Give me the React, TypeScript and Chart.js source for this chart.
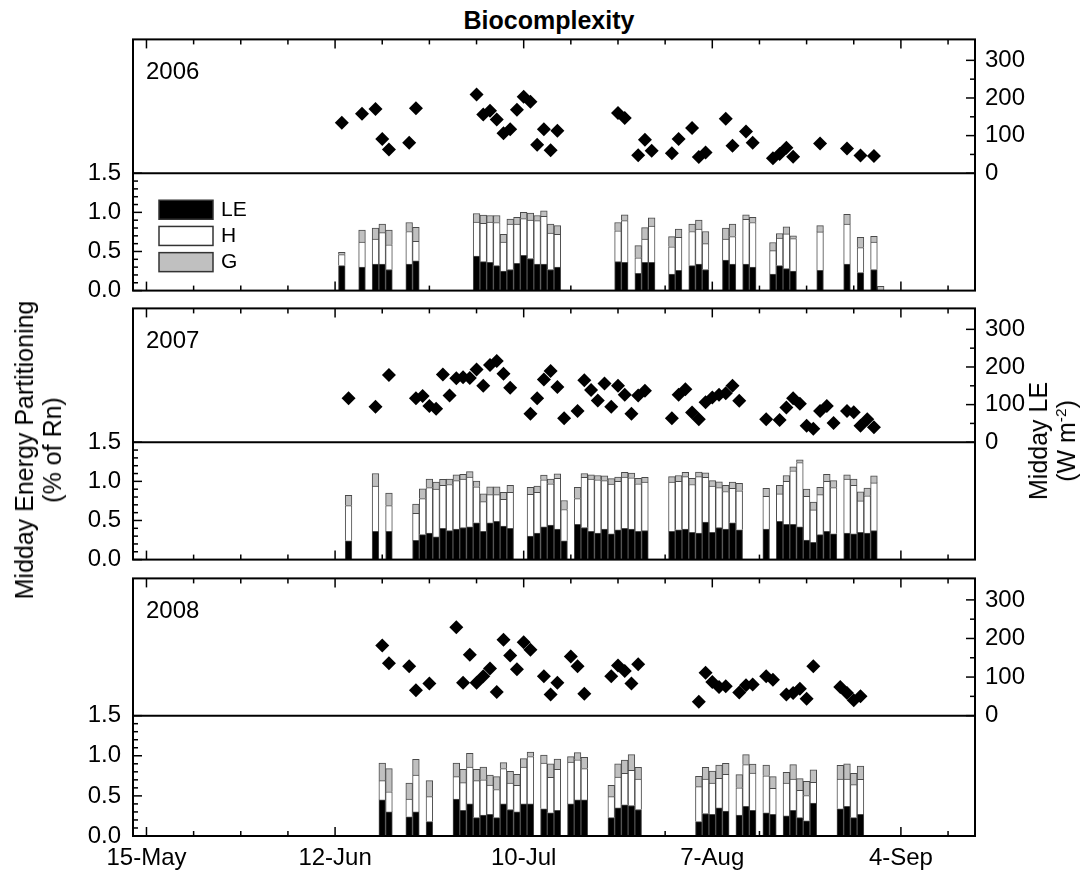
import React, { useEffect, useRef } from 'react';
import { Chart, registerables } from 'chart.js';

Chart.register(...registerables);

const FONT = '"Liberation Sans", Arial, Helvetica, sans-serif';

// ---- axis tick data ----
const xTickDays = [135, 163, 191, 219, 247]; // day of year
const xTickLabels = ['15-May', '12-Jun', '10-Jul', '7-Aug', '4-Sep'];
const leftTickValues = [0, 0.5, 1.0, 1.5];
const rightTickValues = [0, 100, 200, 300];
const seriesNames = ['LE', 'H', 'G'];
const seriesColors = ['#000000', '#ffffff', '#c0c0c0'];
const yearLabels = ['2006', '2007', '2008'];

// ---- 2006 ----
const barDays2006 = [164, 167, 169, 170, 171, 174, 175, 184, 185, 186, 187, 188, 189, 190, 191, 192, 193, 194, 195, 196, 205, 206, 208, 209, 210, 213, 214, 216, 217, 218, 221, 222, 224, 225, 228, 229, 230, 231, 235, 239, 241, 243, 244];
const le2006 = [0.32, 0.30, 0.34, 0.34, 0.27, 0.34, 0.38, 0.44, 0.37, 0.36, 0.32, 0.25, 0.27, 0.35, 0.45, 0.41, 0.34, 0.34, 0.27, 0.30, 0.37, 0.36, 0.22, 0.36, 0.36, 0.21, 0.26, 0.32, 0.34, 0.27, 0.39, 0.34, 0.34, 0.30, 0.21, 0.32, 0.28, 0.25, 0.26, 0.34, 0.23, 0.27, null];
const h2006 = [0.14, 0.32, 0.32, 0.40, 0.315, 0.415, 0.25, 0.435, 0.49, 0.515, 0.55, 0.37, 0.58, 0.50, 0.47, 0.49, 0.555, 0.61, 0.465, 0.42, 0.395, 0.535, 0.20, 0.30, 0.465, 0.35, 0.42, 0.435, 0.445, 0.33, 0.27, 0.35, 0.57, 0.57, 0.30, 0.35, 0.445, 0.415, 0.49, 0.51, 0.32, 0.35, null];
const g2006 = [0.03, 0.155, 0.14, 0.11, 0.19, 0.115, 0.18, 0.11, 0.105, 0.085, 0.09, 0.10, 0.065, 0.085, 0.08, 0.09, 0.065, 0.07, 0.115, 0.11, 0.105, 0.075, 0.155, 0.145, 0.105, 0.13, 0.105, 0.095, 0.115, 0.155, 0.14, 0.16, 0.06, 0.065, 0.105, 0.06, 0.09, 0.035, 0.08, 0.125, 0.13, 0.075, 0.054];
const leDays2006 = [164, 167, 169, 170, 171, 174, 175, 184, 185, 186, 187, 188, 189, 190, 191, 192, 193, 194, 195, 196, 205, 206, 208, 209, 210, 213, 214, 216, 217, 218, 221, 222, 224, 225, 228, 229, 230, 231, 235, 239, 241, 243];
const midLE2006 = [134, 158, 171, 91, 63, 81, 173, 209, 156, 166, 143, 106, 117, 169, 203, 190, 76, 117, 61, 113, 160, 147, 48, 89, 60, 53, 91, 120, 43, 55, 145, 73, 111, 81, 40, 51, 68, 44, 79, 66, 47, 46];

// ---- 2007 ----
const barDays2007 = [165, 169, 171, 175, 176, 177, 178, 179, 180, 181, 182, 183, 184, 185, 186, 187, 188, 189, 192, 193, 194, 195, 196, 197, 199, 200, 201, 202, 203, 204, 205, 206, 207, 208, 209, 213, 214, 215, 216, 217, 218, 219, 220, 221, 222, 223, 227, 229, 230, 231, 232, 233, 234, 235, 236, 237, 239, 240, 241, 242, 243];
const le2007 = [0.24, 0.36, 0.36, 0.245, 0.32, 0.34, 0.29, 0.40, 0.37, 0.39, 0.41, 0.42, 0.47, 0.36, 0.47, 0.49, 0.43, 0.40, 0.30, 0.34, 0.42, 0.44, 0.39, 0.24, 0.45, 0.41, 0.36, 0.34, 0.39, 0.33, 0.38, 0.40, 0.39, 0.36, 0.37, 0.36, 0.38, 0.39, 0.35, 0.34, 0.48, 0.35, 0.41, 0.39, 0.47, 0.38, 0.39, 0.49, 0.45, 0.45, 0.42, 0.25, 0.22, 0.32, 0.36, 0.33, 0.34, 0.33, 0.35, 0.34, 0.37];
const h2007 = [0.45, 0.58, 0.33, 0.345, 0.46, 0.58, 0.61, 0.55, 0.59, 0.62, 0.62, 0.635, 0.46, 0.38, 0.36, 0.34, 0.34, 0.46, 0.535, 0.52, 0.60, 0.53, 0.65, 0.40, 0.33, 0.64, 0.67, 0.68, 0.62, 0.635, 0.62, 0.655, 0.655, 0.61, 0.62, 0.63, 0.62, 0.67, 0.61, 0.72, 0.57, 0.59, 0.51, 0.48, 0.44, 0.50, 0.42, 0.35, 0.55, 0.685, 0.82, 0.56, 0.415, 0.51, 0.64, 0.59, 0.69, 0.62, 0.40, 0.475, 0.61];
const g2007 = [0.13, 0.16, 0.16, 0.12, 0.125, 0.11, 0.09, 0.075, 0.07, 0.075, 0.06, 0.07, 0.075, 0.10, 0.10, 0.10, 0.09, 0.09, 0.09, 0.08, 0.06, 0.06, 0.055, 0.115, 0.145, 0.05, 0.055, 0.055, 0.06, 0.07, 0.055, 0.06, 0.06, 0.07, 0.06, 0.07, 0.075, 0.055, 0.08, 0.06, 0.06, 0.07, 0.075, 0.08, 0.08, 0.095, 0.10, 0.11, 0.075, 0.05, 0.035, 0.09, 0.10, 0.095, 0.09, 0.09, 0.055, 0.08, 0.115, 0.10, 0.09];
const leDays2007 = [165, 169, 171, 175, 176, 177, 178, 179, 180, 181, 182, 183, 184, 185, 186, 187, 188, 189, 192, 193, 194, 195, 196, 197, 199, 200, 201, 202, 203, 204, 205, 206, 207, 208, 209, 213, 214, 215, 216, 217, 218, 219, 220, 221, 222, 223, 227, 229, 230, 231, 232, 233, 234, 235, 236, 237, 239, 240, 241, 242, 243];
const midLE2007 = [117, 94, 179, 117, 123, 96, 89, 180, 124, 170, 173, 171, 193, 150, 205, 216, 182, 145, 76, 117, 167, 189, 147, 64, 83, 165, 139, 111, 156, 94, 150, 126, 76, 124, 137, 64, 126, 141, 79, 61, 106, 119, 126, 130, 150, 110, 61, 59, 92, 117, 102, 44, 36, 83, 96, 51, 83, 80, 44, 61, 40];

// ---- 2008 ----
const barDays2008 = [170, 171, 174, 175, 177, 181, 182, 183, 184, 185, 186, 187, 188, 189, 190, 191, 192, 194, 195, 196, 198, 199, 200, 204, 205, 206, 207, 208, 217, 218, 219, 220, 221, 223, 224, 225, 227, 228, 230, 231, 232, 233, 234, 238, 239, 240, 241];
const le2008 = [0.45, 0.30, 0.24, 0.30, 0.18, 0.46, 0.32, 0.40, 0.23, 0.26, 0.27, 0.23, 0.40, 0.33, 0.30, 0.40, 0.40, 0.34, 0.29, 0.32, 0.40, 0.45, 0.45, 0.23, 0.35, 0.39, 0.38, 0.33, 0.18, 0.28, 0.27, 0.35, 0.31, 0.26, 0.37, 0.32, 0.29, 0.27, 0.25, 0.32, 0.23, 0.19, 0.41, 0.34, 0.37, 0.23, 0.27];
const h2008 = [0.24, 0.25, 0.22, 0.46, 0.31, 0.28, 0.345, 0.46, 0.46, 0.44, 0.365, 0.35, 0.44, 0.33, 0.33, 0.46, 0.59, 0.57, 0.44, 0.51, 0.52, 0.50, 0.39, 0.26, 0.385, 0.39, 0.44, 0.38, 0.435, 0.43, 0.39, 0.37, 0.46, 0.34, 0.52, 0.465, 0.46, 0.325, 0.41, 0.39, 0.34, 0.315, 0.26, 0.37, 0.34, 0.41, 0.435];
const g2008 = [0.22, 0.29, 0.20, 0.195, 0.20, 0.17, 0.165, 0.17, 0.14, 0.16, 0.125, 0.16, 0.075, 0.145, 0.14, 0.105, 0.055, 0.10, 0.17, 0.13, 0.07, 0.09, 0.14, 0.14, 0.165, 0.165, 0.195, 0.145, 0.13, 0.145, 0.15, 0.165, 0.135, 0.165, 0.125, 0.11, 0.135, 0.145, 0.135, 0.18, 0.145, 0.175, 0.155, 0.17, 0.19, 0.14, 0.165];
const leDays2008 = [170, 171, 174, 175, 177, 181, 182, 183, 184, 185, 186, 187, 188, 189, 190, 191, 192, 194, 195, 196, 198, 199, 200, 204, 205, 206, 207, 208, 217, 218, 219, 220, 221, 223, 224, 225, 227, 228, 230, 231, 232, 233, 234, 238, 239, 240, 241];
const midLE2008 = [182, 136, 128, 66, 83, 229, 85, 158, 85, 102, 122, 61, 197, 156, 120, 190, 171, 102, 55, 85, 153, 128, 57, 102, 130, 116, 83, 133, 36, 111, 87, 74, 76, 60, 79, 81, 102, 93, 55, 59, 70, 44, 128, 74, 59, 40, 50];

// ---- layout constants ----
const X_MIN = 133;
const X_MAX = 258;
const TOP_H = 138;
const BOT_H = 121;
const PANEL_TOPS = [38, 307, 577];
const PAD_TOP = 25;
const L_MAX = (1.5 * (TOP_H + BOT_H)) / BOT_H;
const R_PX = 0.388;
const R_MAX = TOP_H / R_PX;
const R_MIN = -BOT_H / R_PX;

function makeFramePlugin(year: string, legend: boolean) {
  return {
    id: 'frame' + year,
    afterDraw(chart: any) {
      const { ctx, chartArea, scales } = chart;
      const { left, right, top, bottom } = chartArea;
      const xs = scales.x;
      const yL = scales.yL;
      const yR = scales.yR;
      const line = (x1: number, y1: number, x2: number, y2: number) => {
        ctx.beginPath();
        ctx.moveTo(x1, y1);
        ctx.lineTo(x2, y2);
        ctx.stroke();
      };
      ctx.save();
      ctx.strokeStyle = '#000';
      ctx.lineWidth = 2;
      ctx.strokeRect(left, top, right - left, bottom - top);
      const mid = yL.getPixelForValue(1.5);
      line(left, mid, right, mid);
      ctx.lineWidth = 1.5;
      for (let d = xTickDays[0]; d <= X_MAX; d += 7) {
        const px = xs.getPixelForValue(d);
        const major = (d - xTickDays[0]) % 28 === 0;
        const len = major ? 9 : 5;
        line(px, top, px, top + len);
        line(px, bottom, px, bottom - len);
      }
      for (let i = 0; i <= 15; i++) {
        const py = yL.getPixelForValue(i / 10);
        const len = i % 5 === 0 ? 9 : 5;
        line(left, py, left + len, py);
      }
      for (let v = 0; v <= 300; v += 50) {
        const py = yR.getPixelForValue(v);
        const len = v % 100 === 0 ? 9 : 5;
        line(right, py, right - len, py);
      }
      ctx.fillStyle = '#000';
      ctx.font = '24px ' + FONT;
      ctx.textBaseline = 'alphabetic';
      ctx.textAlign = 'left';
      ctx.fillText(year, left + 13, top + 40);
      if (legend) {
        ctx.font = '21px ' + FONT;
        ctx.textBaseline = 'middle';
        seriesNames.forEach((name, i) => {
          const by = mid + 27 + i * 26.2;
          ctx.fillStyle = seriesColors[i];
          ctx.fillRect(left + 26, by, 54, 19);
          ctx.strokeStyle = '#333';
          ctx.lineWidth = 1.5;
          ctx.strokeRect(left + 26, by, 54, 19);
          ctx.fillStyle = '#000';
          ctx.fillText(name, left + 88, by + 10);
        });
      }
      ctx.restore();
    },
  };
}

type PanelProps = {
  top: number;
  year: string;
  barDays: number[];
  le: (number | null)[];
  h: (number | null)[];
  g: (number | null)[];
  leDays: number[];
  midLE: number[];
  legend: boolean;
  showX: boolean;
};

function Panel(p: PanelProps) {
  const ref = useRef<HTMLCanvasElement | null>(null);
  const xH = p.showX ? 45 : 20;
  const height = PAD_TOP + TOP_H + BOT_H + xH;
  useEffect(() => {
    if (!ref.current) return;
    const pts = (d: number[], v: (number | null)[]) => d.map((x, i) => ({ x, y: v[i] }));
    const tickFont = { family: FONT, size: 24 };
    const barCommon = {
      yAxisID: 'yL',
      xAxisID: 'x',
      borderColor: '#4a4a4a',
      borderWidth: 1,
      barThickness: 6.7,
      stack: 's',
    };
    const chart = new Chart(ref.current, {
      type: 'bar',
      data: {
        datasets: [
          {
            type: 'scatter',
            label: 'Midday LE',
            data: pts(p.leDays, p.midLE),
            yAxisID: 'yR',
            xAxisID: 'x',
            pointStyle: 'rectRot',
            pointRadius: 7,
            backgroundColor: '#000',
            borderColor: '#000',
            borderWidth: 0,
          } as any,
          { ...barCommon, label: seriesNames[0], data: pts(p.barDays, p.le), backgroundColor: seriesColors[0] },
          { ...barCommon, label: seriesNames[1], data: pts(p.barDays, p.h), backgroundColor: seriesColors[1] },
          { ...barCommon, label: seriesNames[2], data: pts(p.barDays, p.g), backgroundColor: seriesColors[2] },
        ],
      },
      options: {
        responsive: false,
        animation: false,
        layout: { padding: { top: PAD_TOP, left: 0, right: 0, bottom: 0 } },
        plugins: { legend: { display: false }, tooltip: { enabled: false }, title: { display: false } },
        scales: {
          x: {
            type: 'linear',
            position: 'bottom',
            min: X_MIN,
            max: X_MAX,
            bounds: 'data',
            offset: false,
            stacked: true,
            grid: { display: false, drawTicks: false, tickLength: 0, offset: false },
            border: { display: false },
            afterBuildTicks: (s: any) => {
              s.ticks = xTickDays.map((v) => ({ value: v }));
            },
            ticks: {
              display: p.showX,
              autoSkip: false,
              maxRotation: 0,
              padding: 8,
              color: '#000',
              font: tickFont,
              callback: (v: any) => {
                const i = xTickDays.indexOf(Number(v));
                return i >= 0 ? xTickLabels[i] : '';
              },
            },
            afterFit: (s: any) => {
              s.height = xH;
            },
          },
          yL: {
            type: 'linear',
            position: 'left',
            min: 0,
            max: L_MAX,
            bounds: 'data',
            stacked: true,
            grid: { display: false, drawTicks: false, tickLength: 0 },
            border: { display: false },
            afterBuildTicks: (s: any) => {
              s.ticks = leftTickValues.map((v) => ({ value: v }));
            },
            ticks: {
              padding: 12,
              color: '#000',
              font: tickFont,
              callback: (v: any) => Number(v).toFixed(1),
            },
            afterFit: (s: any) => {
              s.width = 133;
            },
          },
          yR: {
            type: 'linear',
            position: 'right',
            min: R_MIN,
            max: R_MAX,
            bounds: 'data',
            grid: { display: false, drawTicks: false, tickLength: 0 },
            border: { display: false },
            afterBuildTicks: (s: any) => {
              s.ticks = rightTickValues.map((v) => ({ value: v }));
            },
            ticks: {
              padding: 10,
              color: '#000',
              font: tickFont,
              callback: (v: any) => String(Math.round(Number(v))),
            },
            afterFit: (s: any) => {
              s.width = 115;
            },
          },
        },
      } as any,
      plugins: [makeFramePlugin(p.year, p.legend)],
    });
    return () => chart.destroy();
  }, []);
  return (
    <canvas
      ref={ref}
      width={1090}
      height={height}
      style={{ position: 'absolute', left: 0, top: p.top - PAD_TOP, width: 1090, height }}
    />
  );
}

export default function App() {
  return (
    <div
      style={{
        position: 'absolute',
        left: 0,
        top: 0,
        width: 1090,
        height: 881,
        background: '#fff',
        fontFamily: FONT,
        color: '#000',
        overflow: 'hidden',
      }}
    >
      <div
        style={{
          position: 'absolute',
          left: 349,
          top: 8,
          width: 400,
          textAlign: 'center',
          fontWeight: 'bold',
          fontSize: 25,
          lineHeight: '25px',
        }}
      >
        Biocomplexity
      </div>
      <Panel top={PANEL_TOPS[0]} year={yearLabels[0]} barDays={barDays2006} le={le2006} h={h2006} g={g2006} leDays={leDays2006} midLE={midLE2006} legend={true} showX={false} />
      <Panel top={PANEL_TOPS[1]} year={yearLabels[1]} barDays={barDays2007} le={le2007} h={h2007} g={g2007} leDays={leDays2007} midLE={midLE2007} legend={false} showX={false} />
      <Panel top={PANEL_TOPS[2]} year={yearLabels[2]} barDays={barDays2008} le={le2008} h={h2008} g={g2008} leDays={leDays2008} midLE={midLE2008} legend={false} showX={true} />
      <div
        style={{
          position: 'absolute',
          left: 38,
          top: 450,
          transform: 'translate(-50%, -50%) rotate(-90deg)',
          whiteSpace: 'nowrap',
          textAlign: 'center',
          fontSize: 25,
          lineHeight: '28px',
        }}
      >
        Midday Energy Partitioning
        <br />
        (% of Rn)
      </div>
      <div
        style={{
          position: 'absolute',
          left: 1054,
          top: 441,
          transform: 'translate(-50%, -50%) rotate(-90deg)',
          whiteSpace: 'nowrap',
          textAlign: 'center',
          fontSize: 25,
          lineHeight: '28px',
        }}
      >
        Midday LE
        <br />
        (W m<span style={{ position: 'relative', top: '-0.55em', fontSize: '0.62em' }}>-2</span>)
      </div>
    </div>
  );
}
